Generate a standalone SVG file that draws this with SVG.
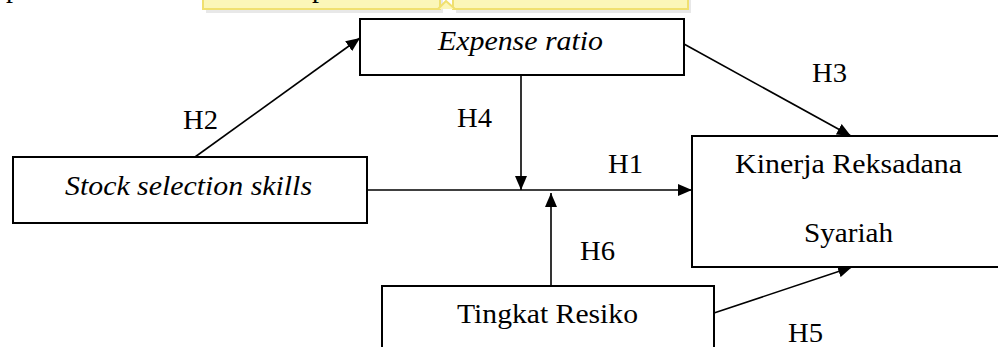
<svg xmlns="http://www.w3.org/2000/svg" width="998" height="347" viewBox="0 0 998 347">
<defs>
<style>
.box{fill:#fff;stroke:#000;stroke-width:2}
.ln{stroke:#000;stroke-width:1.6;fill:none}
.t{font-family:"Liberation Serif","Times New Roman",serif;font-size:28px;fill:#000}
.i{font-style:italic}
.wm{fill:#fbf6b8;stroke:#f0e070;stroke-width:2}
</style>
<marker id="ah" viewBox="0 0 14 12" refX="14" refY="6" markerWidth="14" markerHeight="12" markerUnits="userSpaceOnUse" orient="auto">
<path d="M0,0 L14,6 L0,12 Z" fill="#000"/>
</marker>
</defs>
<rect width="998" height="347" fill="#fff"/>
<g id="watermark">
<rect x="206" y="-10" width="237" height="23" fill="#d8d8d8" opacity="0.6"/>
<rect x="456" y="-10" width="235" height="23" fill="#d8d8d8" opacity="0.6"/>
<rect x="203" y="-10" width="237" height="19" class="wm"/>
<rect x="453" y="-10" width="235" height="19" class="wm"/>
<path d="M438,9 L446,1 L455,9" fill="#fbf6b8" stroke="#f0e070" stroke-width="2"/>
<text x="6" y="-3" class="t">p</text>
<text x="312" y="-3" class="t">p</text>
</g>
<g id="connectors">
<line class="ln" x1="367" y1="190" x2="692" y2="190" marker-end="url(#ah)"/>
<line class="ln" x1="521" y1="75" x2="521" y2="190" marker-end="url(#ah)"/>
<line class="ln" x1="551" y1="286" x2="551" y2="193" marker-end="url(#ah)"/>
<line class="ln" x1="195" y1="157" x2="360" y2="38" marker-end="url(#ah)"/>
<line class="ln" x1="684" y1="44" x2="851" y2="136" marker-end="url(#ah)"/>
<line class="ln" x1="714" y1="313" x2="852" y2="267" marker-end="url(#ah)"/>
</g>
<g id="expense">
<rect class="box" x="360" y="19" width="324" height="56"/>
<text class="t i" x="438" y="50" textLength="165" lengthAdjust="spacingAndGlyphs">Expense ratio</text>
</g>
<g id="stock">
<rect class="box" x="13" y="157" width="354" height="66"/>
<text class="t i" x="65" y="195" textLength="247" lengthAdjust="spacingAndGlyphs">Stock selection skills</text>
</g>
<g id="kinerja">
<rect class="box" x="692" y="136" width="310" height="131"/>
<text class="t" x="735" y="173" textLength="227" lengthAdjust="spacingAndGlyphs">Kinerja Reksadana</text>
<text class="t" x="804" y="242" textLength="89" lengthAdjust="spacingAndGlyphs">Syariah</text>
</g>
<g id="tingkat">
<rect class="box" x="382" y="286" width="332" height="70"/>
<text class="t" x="457" y="323" textLength="181" lengthAdjust="spacingAndGlyphs">Tingkat Resiko</text>
</g>
<g id="labels">
<text class="t" x="183" y="129" textLength="35" lengthAdjust="spacingAndGlyphs">H2</text>
<text class="t" x="457" y="127" textLength="35" lengthAdjust="spacingAndGlyphs">H4</text>
<text class="t" x="608" y="173" textLength="35" lengthAdjust="spacingAndGlyphs">H1</text>
<text class="t" x="812" y="82" textLength="35" lengthAdjust="spacingAndGlyphs">H3</text>
<text class="t" x="580" y="260" textLength="35" lengthAdjust="spacingAndGlyphs">H6</text>
<text class="t" x="788" y="342" textLength="35" lengthAdjust="spacingAndGlyphs">H5</text>
</g>
</svg>
